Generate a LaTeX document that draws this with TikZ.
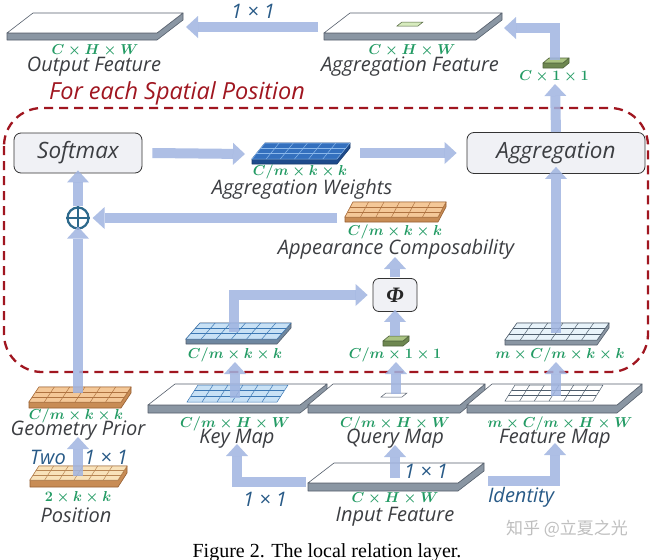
\documentclass[tikz,border=0pt]{standalone}
\usepackage{fontspec}
\setmainfont{Liberation Serif}
\newfontfamily\lbl{Open Sans}
\newfontfamily\cjk{Noto Sans CJK SC}
\usetikzlibrary{arrows.meta}

\definecolor{arrowc}{RGB}{160,180,225}
\definecolor{dred}{RGB}{160,22,32}
\definecolor{dimg}{RGB}{35,155,100}
\definecolor{labc}{RGB}{60,62,66}
\definecolor{bluec}{RGB}{40,90,135}
\definecolor{slabside}{RGB}{138,150,163}
\definecolor{slabedge}{RGB}{85,95,108}
\definecolor{awtop}{RGB}{52,112,190}
\definecolor{awside}{RGB}{30,75,140}
\definecolor{awline}{RGB}{140,185,235}
\definecolor{awedge}{RGB}{25,60,110}
\definecolor{ortop}{RGB}{244,200,152}
\definecolor{orside}{RGB}{200,140,85}
\definecolor{orline}{RGB}{175,115,65}
\definecolor{oredge}{RGB}{150,95,50}
\definecolor{postop}{RGB}{248,226,186}
\definecolor{posline}{RGB}{185,135,85}
\definecolor{kbtop}{RGB}{200,225,245}
\definecolor{kbside}{RGB}{110,135,160}
\definecolor{kbline}{RGB}{60,120,180}
\definecolor{fktop}{RGB}{232,243,250}
\definecolor{fkline}{RGB}{80,95,110}
\definecolor{cubetop}{RGB}{170,195,130}
\definecolor{cubeside}{RGB}{110,135,80}
\definecolor{cubeedge}{RGB}{80,100,60}
\definecolor{lgreen}{RGB}{215,235,190}
\definecolor{plusc}{RGB}{45,105,140}
\definecolor{boxfill}{RGB}{240,241,245}

% #1 x, #2 y (front-left), #3 width, #4 shift x, #5 depth, #6 thickness, #7 top, #8 side, #9 edge
\newcommand{\slabShape}[9]{%
  \filldraw[fill=#8, draw=#9, line width=0.6pt, line join=round] (#1,#2) -- ++(#3,0) -- ++(#4,-#5) -- ++(0,#6) -- ++(-#4,#5) -- ++(-#3,0) -- cycle;
  \filldraw[fill=#7, draw=#9, line width=0.6pt, line join=round] (#1,#2) -- ++(#3,0) -- ++(#4,-#5) -- ++(-#3,0) -- cycle;
}
% 6x3 grid: #1 x, #2 y, #3 w, #4 sx, #5 dy, #6 fill, #7 line
\newcommand{\gridFace}[7]{%
  \filldraw[fill=#6, draw=#7, line width=0.5pt] (#1,#2) -- ++(#3,0) -- ++(#4,-#5) -- ++(-#3,0) -- cycle;
  \foreach \i in {1,...,5} \draw[#7, line width=0.5pt] ({#1+\i*#3/6},#2) -- ++(#4,-#5);
  \foreach \j in {1,2} \draw[#7, line width=0.5pt] ({#1+\j*#4/3},{#2-\j*#5/3}) -- ++(#3,0);
}

\tikzset{
  barrow/.style={draw=arrowc, opacity=0.85, line width=10pt, line join=miter,
    -{Triangle[width=22pt,length=12pt,line width=0pt]}},
  dimtxt/.style={text=dimg, font=\fontsize{15.5}{16}\selectfont\boldmath, inner sep=0pt},
  labtxt/.style={text=labc, font=\lbl\itshape\fontsize{20}{20}\selectfont, inner sep=0pt},
  bluetxt/.style={text=bluec, font=\lbl\itshape\fontsize{20}{20}\selectfont, inner sep=0pt},
  opbox/.style={draw=black!80, fill=boxfill, rounded corners=7pt, line width=0.8pt,
    text=labc, font=\lbl\itshape\fontsize{22.5}{23}\selectfont, inner sep=0pt}
}

\begin{document}
\begin{tikzpicture}[x=1pt,y=-1pt]
\useasboundingbox (0,0) rectangle (654,560);
\fill[white] (0,0) rectangle (654,560);

% region
\draw[dred, line width=2.3pt, dash pattern=on 9pt off 6pt, rounded corners=38pt] (4,108) rectangle (648,372);
\node[labtxt, text=dred, font=\lbl\itshape\fontsize{23.5}{24}\selectfont] (region) at (177,93) {For each Spatial Position};

% ---- slabs ----
% output feature
\slabShape{7}{33}{150}{26}{20}{7}{white}{slabside}{slabedge}
\node[dimtxt] (outDim) at (95,51) {$C\times H\times W$};
\node[labtxt] (outLab) at (94,67) {Output Feature};
% aggregation feature
\slabShape{324}{33}{152}{26}{20}{7}{white}{slabside}{slabedge}
\filldraw[fill=lgreen, draw=cubeedge, line width=0.5pt] (397,26) -- ++(21,0) -- ++(5,-4) -- ++(-21,0) -- cycle;
\node[dimtxt] (aggDim) at (412,51) {$C\times H\times W$};
\node[labtxt] (aggLab) at (410,67) {Aggregation Feature};
% C x 1 x 1 cube
\slabShape{543}{63}{20}{6}{5}{5}{cubetop}{cubeside}{cubeedge}
\node[dimtxt] (cubeDim) at (554,77) {$C\times 1\times 1$};

% boxes
\node[opbox, minimum width=128pt, minimum height=40pt] (softmax) at (78,153) {Softmax};
\node[opbox, minimum width=178pt, minimum height=41pt] (aggbox) at (556,153) {Aggregation};
\node[opbox, rounded corners=6pt, minimum width=44pt, minimum height=33pt, font=\fontsize{22}{22}\selectfont\bfseries\itshape, text=black!85] (phi) at (395,295) {Φ};
\node[circle, draw=plusc, line width=2.2pt, minimum size=21pt, inner sep=0pt] (plus) at (78,218) {};
\draw[plusc, line width=2.2pt] (plus.north) -- (plus.south) (plus.west) -- (plus.east);

% aggregation weights
\slabShape{252}{159}{85}{13}{16}{5}{awtop}{awside}{awedge}
\gridFace{252}{159}{85}{13}{16}{awtop}{awline}
\node[dimtxt] (awDim) at (300,172) {$C/m\times k\times k$};
\node[labtxt] (awLab) at (302,189) {Aggregation Weights};
% appearance composability
\slabShape{345}{217}{93}{8}{15}{5}{ortop}{orside}{oredge}
\gridFace{345}{217}{93}{8}{15}{ortop}{orline}
\node[dimtxt] (acDim) at (395,232) {$C/m\times k\times k$};
\node[labtxt] (acLab) at (396,249) {Appearance Composability};

% key kxk
\slabShape{186}{339}{91}{14}{16}{5}{kbtop}{kbside}{slabedge}
\gridFace{186}{339}{91}{14}{16}{kbtop}{kbline}
\node[dimtxt] (kkDim) at (235,355) {$C/m\times k\times k$};
% query 1x1
\slabShape{383}{341}{20}{6}{5}{5}{cubetop}{cubeside}{cubeedge}
\node[dimtxt] (qDim) at (395,355) {$C/m\times 1\times 1$};
% feature kxk
\slabShape{505}{340}{92}{12}{17}{5}{fktop}{slabside}{slabedge}
\gridFace{505}{340}{92}{12}{17}{fktop}{fkline}
\node[dimtxt] (fkDim) at (560,355) {$m\times C/m\times k\times k$};

% bottom maps
\slabShape{148}{405}{152}{27}{21}{8}{white}{slabside}{slabedge}
\gridFace{187}{402}{90}{11}{17}{kbtop}{kbline}
\slabShape{308}{405}{152}{25}{21}{8}{white}{slabside}{slabedge}
\draw[slabedge, line width=0.5pt] (381,397) -- ++(21,0) -- ++(5,-4) -- ++(-21,0) -- cycle;
\slabShape{467}{405}{150}{25}{21}{8}{white}{slabside}{slabedge}
\gridFace{505}{401}{88}{10}{16}{white}{fkline}
\node[dimtxt] (kmDim) at (235,424) {$C/m\times H\times W$};
\node[labtxt] (kmLab) at (237,439) {Key Map};
\node[dimtxt] (qmDim) at (395,424) {$C/m\times H\times W$};
\node[labtxt] (qmLab) at (395,439) {Query Map};
\node[dimtxt] (fmDim) at (560,424) {$m\times C/m\times H\times W$};
\node[labtxt] (fmLab) at (555,439) {Feature Map};

% geometry prior
\slabShape{29}{402}{92}{10}{15}{6}{ortop}{orside}{oredge}
\gridFace{29}{402}{92}{10}{15}{ortop}{orline}
\node[dimtxt] (gpDim) at (76,416) {$C/m\times k\times k$};
\node[labtxt] (gpLab) at (78,431) {Geometry Prior};
% position
\slabShape{30}{480}{88}{9}{14}{7}{postop}{orside}{oredge}
\gridFace{30}{480}{88}{9}{14}{postop}{posline}
\node[dimtxt] (posDim) at (78,497) {$2\times k\times k$};
\node[labtxt] (posLab) at (76,515) {Position};
\node[bluetxt] (two) at (48,457) {Two};
\node[bluetxt] (posOp) at (106,457) {1 × 1};

% input
\slabShape{308}{483}{150}{26}{20}{8}{white}{slabside}{slabedge}
\node[dimtxt] (inDim) at (395,499) {$C\times H\times W$};
\node[labtxt] (inLab) at (395,517) {Input Feature};
\node[bluetxt] (inOp) at (426,471) {1 × 1};
\node[bluetxt] (keyOp) at (265,499) {1 × 1};
\node[bluetxt] (idOp) at (521,497) {Identity};
\node[bluetxt] (topOp) at (253,11) {1 × 1};

% ---- connector anchors ----
\coordinate (aggFw) at (318,27);  \coordinate (outFe) at (186,27);
\coordinate (cubeT) at (555,60);  \coordinate (aggFe) at (504,28);
\coordinate (cubeB) at (555,84);
\coordinate (awW) at (245,154);   \coordinate (awE) at (360,153);
\coordinate (acW) at (337,218);
\coordinate (gpT) at (78,393);    \coordinate (acB) at (395,257);
\coordinate (kkT) at (234,332);   \coordinate (qT) at (395,336);
\coordinate (fkT) at (556,333);
\coordinate (kmT) at (235,398);   \coordinate (kkB) at (235,362);
\coordinate (qmT) at (396,394);   \coordinate (qB) at (396,362);
\coordinate (fmT) at (556,396);   \coordinate (fkB) at (556,362);
\coordinate (posT) at (78,476);   \coordinate (gpB) at (78,437);
\coordinate (inT) at (395,478);   \coordinate (qmB) at (395,445);
\coordinate (inW) at (306,482);   \coordinate (kmB) at (237,444);
\coordinate (inE) at (488,481);   \coordinate (fmB) at (555,443);

% ---- connectors ----
\draw[barrow] (aggFw) -- (outFe);
\draw[barrow] (cubeT) |- (aggFe);
\draw[barrow] (aggbox.north) -- (cubeB);
\draw[barrow] ([xshift=10pt]softmax.east) -- (awW);
\draw[barrow] (awE) -- ([xshift=-10pt]aggbox.west);
\draw[barrow] ([yshift=-1pt]plus.north) ++(0,-1) -- ([yshift=3pt]softmax.south);
\draw[barrow] (acW) -- ([xshift=3pt]plus.east);
\draw[barrow] (gpT) -- ([yshift=3pt]plus.south);
\draw[barrow] ([yshift=1pt]phi.north) -- (acB);
\draw[barrow] (kkT) |- ([xshift=-5pt]phi.west);
\draw[barrow] (qT) -- ([yshift=2pt]phi.south);
\draw[barrow] (fkT) -- ([yshift=7pt]aggbox.south);
\draw[barrow] (kmT) -- (kkB);
\draw[barrow] (qmT) -- (qB);
\draw[barrow] (fmT) -- (fkB);
\draw[barrow] (posT) -- (gpB);
\draw[barrow] (inT) -- (qmB);
\draw[barrow] (inW) -| (kmB);
\draw[barrow] (inE) -| (fmB);

% watermark and caption
\node[text=black!25, font=\cjk\fontsize{17}{17}\selectfont, inner sep=0pt] (wm) at (567,529) {知乎 @立夏之光};
\node[anchor=base, font=\fontsize{20}{20}\selectfont, inner sep=0pt] (cap) at (327,557) {Figure 2. The local relation layer.};
\end{tikzpicture}
\end{document}
